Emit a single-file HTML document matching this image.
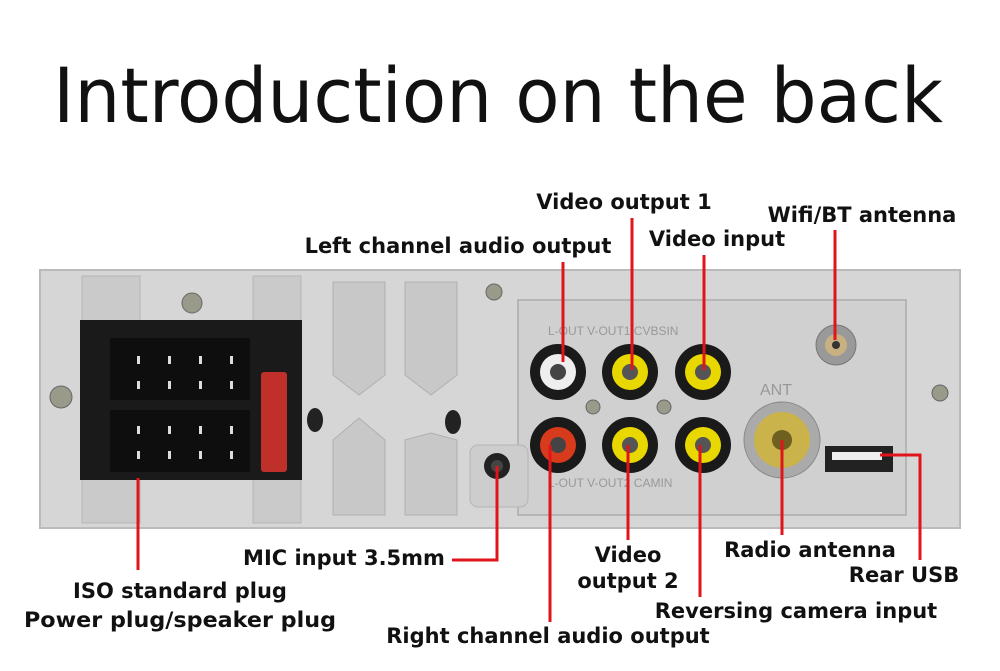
<!DOCTYPE html>
<html><head><style>
html,body{margin:0;padding:0;background:#fff}
svg{display:block}
.l{font-family:"DejaVu Sans","Liberation Sans",sans-serif;font-weight:bold;font-size:21px;fill:#111}
</style></head><body>
<svg width="1000" height="671" viewBox="0 0 1000 671" xmlns="http://www.w3.org/2000/svg">
<rect width="1000" height="671" fill="#fff"/>
<text x="498" y="122" text-anchor="middle" font-family="DejaVu Sans,Liberation Sans,sans-serif" font-size="76" font-weight="normal" fill="#111" textLength="890" lengthAdjust="spacingAndGlyphs">Introduction on the back</text>
<rect x="40" y="270" width="920" height="258" fill="#d6d6d6" stroke="#bbb" stroke-width="2"/>
<rect x="82" y="276" width="58" height="54" fill="#cacaca" stroke="#b5b5b5"/>
<rect x="253" y="276" width="48" height="54" fill="#cacaca" stroke="#b5b5b5"/>
<rect x="82" y="478" width="58" height="45" fill="#cacaca" stroke="#b5b5b5"/>
<rect x="253" y="478" width="48" height="45" fill="#cacaca" stroke="#b5b5b5"/>
<polygon points="333,282 385,282 385,375 359,395 333,375" fill="#c8c8c8" stroke="#b0b0b0"/>
<polygon points="405,282 457,282 457,375 431,395 405,375" fill="#c8c8c8" stroke="#b0b0b0"/>
<polygon points="333,440 359,418 385,440 385,515 333,515" fill="#c8c8c8" stroke="#b0b0b0"/>
<polygon points="405,440 431,433 457,440 457,515 405,515" fill="#c8c8c8" stroke="#b0b0b0"/>
<rect x="518" y="300" width="388" height="215" fill="#d0d0d0" stroke="#b5b5b5" stroke-width="2"/>
<rect x="470" y="445" width="58" height="62" rx="8" fill="#cdcdcd" stroke="#b5b5b5"/>
<circle cx="192" cy="303" r="10" fill="#9a9a8a" stroke="#666"/>
<circle cx="61" cy="397" r="11" fill="#9a9a8a" stroke="#666"/>
<circle cx="494" cy="292" r="8" fill="#9a9a8a" stroke="#666"/>
<circle cx="940" cy="393" r="8" fill="#9a9a8a" stroke="#666"/>
<circle cx="593" cy="407" r="7" fill="#9a9a8a" stroke="#666"/>
<circle cx="664" cy="407" r="7" fill="#9a9a8a" stroke="#666"/>
<ellipse cx="315" cy="420" rx="8" ry="12" fill="#222"/>
<ellipse cx="453" cy="422" rx="8" ry="12" fill="#222"/>
<rect x="80" y="320" width="222" height="160" fill="#1a1a1a"/>
<rect x="110" y="338" width="140" height="62" fill="#0e0e0e"/>
<rect x="110" y="410" width="140" height="62" fill="#0e0e0e"/>
<g fill="#ddd">
<rect x="137" y="356" width="3" height="8"/><rect x="168" y="356" width="3" height="8"/><rect x="199" y="356" width="3" height="8"/><rect x="230" y="356" width="3" height="8"/>
<rect x="137" y="381" width="3" height="8"/><rect x="168" y="381" width="3" height="8"/><rect x="199" y="381" width="3" height="8"/><rect x="230" y="381" width="3" height="8"/>
<rect x="137" y="426" width="3" height="8"/><rect x="168" y="426" width="3" height="8"/><rect x="199" y="426" width="3" height="8"/><rect x="230" y="426" width="3" height="8"/>
<rect x="137" y="451" width="3" height="8"/><rect x="168" y="451" width="3" height="8"/><rect x="199" y="451" width="3" height="8"/><rect x="230" y="451" width="3" height="8"/>
</g>
<rect x="261" y="372" width="26" height="100" rx="3" fill="#c0302a"/>
<circle cx="497" cy="466" r="13" fill="#222"/><circle cx="497" cy="466" r="6" fill="#444"/>
<g>
<circle cx="558" cy="372" r="28" fill="#1a1a1a"/><circle cx="558" cy="372" r="18" fill="#eee"/><circle cx="558" cy="372" r="8" fill="#444"/>
<circle cx="630" cy="372" r="28" fill="#1a1a1a"/><circle cx="630" cy="372" r="18" fill="#e8d800"/><circle cx="630" cy="372" r="8" fill="#555"/>
<circle cx="703" cy="372" r="28" fill="#1a1a1a"/><circle cx="703" cy="372" r="18" fill="#e8d800"/><circle cx="703" cy="372" r="8" fill="#555"/>
<circle cx="558" cy="445" r="28" fill="#1a1a1a"/><circle cx="558" cy="445" r="18" fill="#d83a1c"/><circle cx="558" cy="445" r="8" fill="#444"/>
<circle cx="630" cy="445" r="28" fill="#1a1a1a"/><circle cx="630" cy="445" r="18" fill="#e8d800"/><circle cx="630" cy="445" r="8" fill="#555"/>
<circle cx="703" cy="445" r="28" fill="#1a1a1a"/><circle cx="703" cy="445" r="18" fill="#e8d800"/><circle cx="703" cy="445" r="8" fill="#555"/>
</g>
<text x="548" y="335" font-family="Liberation Sans,sans-serif" font-size="12" fill="#999">L-OUT  V-OUT1  CVBSIN</text>
<text x="548" y="487" font-family="Liberation Sans,sans-serif" font-size="12" fill="#999">L-OUT  V-OUT2  CAMIN</text>
<text x="760" y="395" font-family="Liberation Sans,sans-serif" font-size="16" fill="#999">ANT</text>
<circle cx="782" cy="440" r="38" fill="#aaa" stroke="#888"/><circle cx="782" cy="440" r="28" fill="#c9b34a"/><circle cx="782" cy="440" r="10" fill="#6d6020"/>
<circle cx="836" cy="345" r="20" fill="#999" stroke="#777"/><circle cx="836" cy="345" r="11" fill="#c9b080"/><circle cx="836" cy="345" r="4" fill="#333"/>
<rect x="825" y="446" width="68" height="26" fill="#222"/><rect x="832" y="452" width="50" height="8" fill="#eee"/>
<g stroke="#e0141a" stroke-width="3" fill="none">
<line x1="563" y1="262" x2="563" y2="362"/>
<line x1="632" y1="218" x2="632" y2="370"/>
<line x1="704" y1="255" x2="704" y2="370"/>
<line x1="835" y1="230" x2="835" y2="340"/>
<line x1="550" y1="445" x2="550" y2="622"/>
<line x1="628" y1="445" x2="628" y2="540"/>
<line x1="700" y1="445" x2="700" y2="597"/>
<line x1="782" y1="440" x2="782" y2="535"/>
<polyline points="880,455 920,455 920,560"/>
<line x1="138" y1="478" x2="138" y2="570"/>
<polyline points="497,466 497,560 452,560"/>
</g>
<text class="l" x="624" y="209" text-anchor="middle">Video output 1</text>
<text class="l" x="862" y="222" text-anchor="middle">Wifi/BT antenna</text>
<text class="l" x="458" y="253" text-anchor="middle">Left channel audio output</text>
<text class="l" x="717" y="246" text-anchor="middle">Video input</text>
<text class="l" x="344" y="565" text-anchor="middle">MIC input 3.5mm</text>
<text class="l" x="180" y="598" text-anchor="middle">ISO standard plug</text>
<text class="l" x="180" y="627" text-anchor="middle" textLength="312" lengthAdjust="spacingAndGlyphs">Power plug/speaker plug</text>
<text class="l" x="628" y="562" text-anchor="middle">Video</text>
<text class="l" x="628" y="588" text-anchor="middle">output 2</text>
<text class="l" x="810" y="557" text-anchor="middle">Radio antenna</text>
<text class="l" x="904" y="582" text-anchor="middle">Rear USB</text>
<text class="l" x="796" y="618" text-anchor="middle">Reversing camera input</text>
<text class="l" x="548" y="643" text-anchor="middle">Right channel audio output</text>
</svg>
</body></html>
